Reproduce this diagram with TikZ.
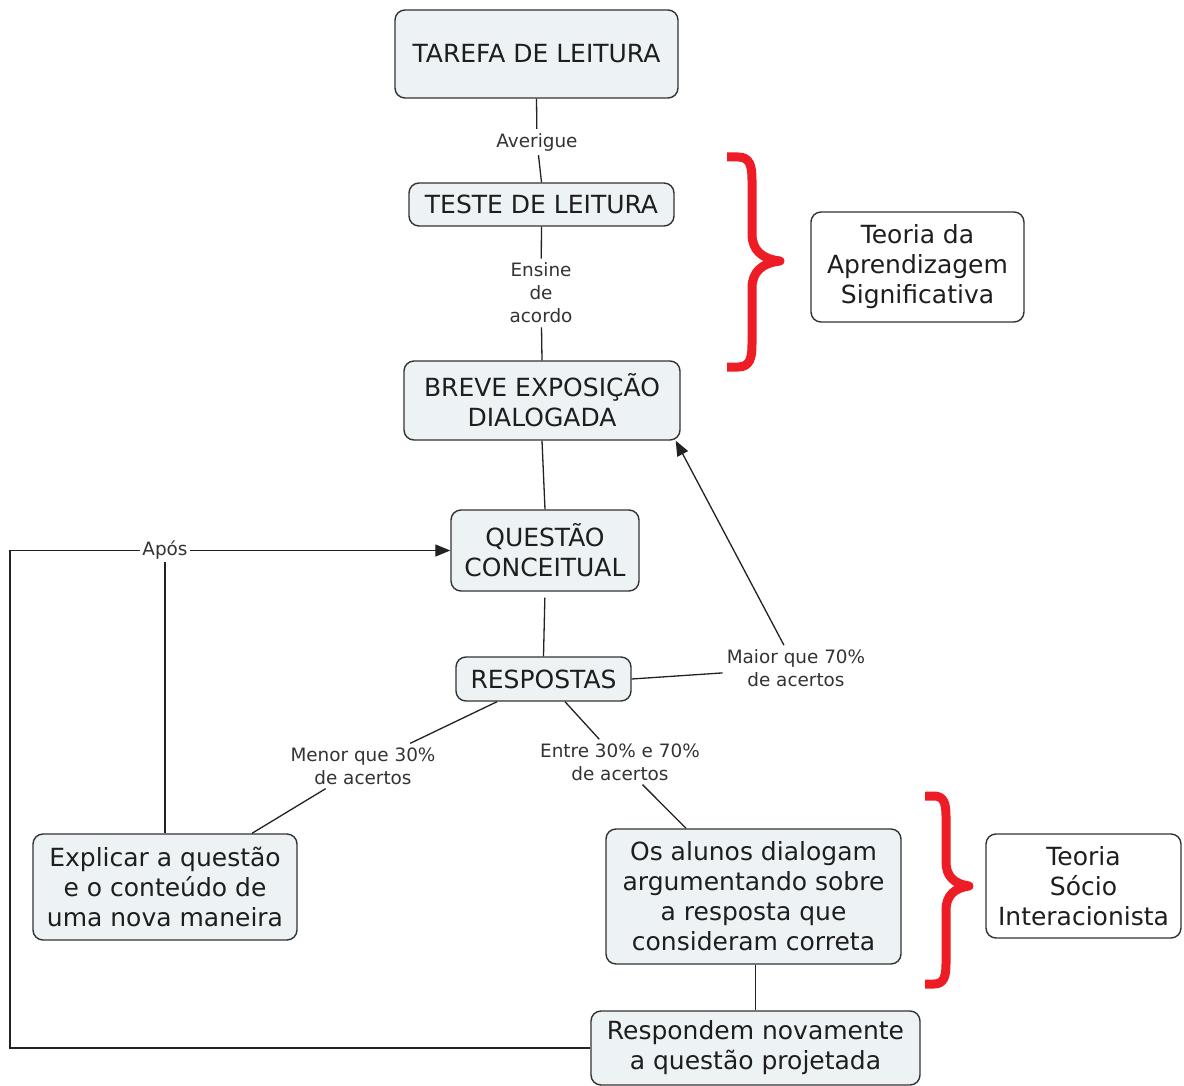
\documentclass[tikz,border=0pt]{standalone}
\usepackage{fontspec}
\setmainfont{DejaVu Sans}
\usetikzlibrary{arrows.meta,calc}
\definecolor{boxfill}{HTML}{EDF3F5}
\definecolor{boxdraw}{HTML}{333333}
\definecolor{linecol}{HTML}{222222}
\definecolor{bracered}{HTML}{EE1C24}
\definecolor{txt}{HTML}{1E1E1E}
\definecolor{labtxt}{HTML}{333333}
\begin{document}
\begin{tikzpicture}[x=1pt,y=-1pt,
 concept/.style={draw=boxdraw, line width=1.4pt, rounded corners=10pt, fill=boxfill, align=center, inner sep=0pt, text=txt, font=\fontsize{25}{30}\selectfont},
 theory/.style={concept, fill=white},
 linkl/.style={align=center, inner sep=4pt, text=labtxt, font=\fontsize{18.4}{23}\selectfont},
 conn/.style={draw=linecol, line width=1.3pt},
 arrowconn/.style={conn, -{Triangle[length=15pt,width=12pt]}},
 bracestyle/.style={draw=bracered, line width=9pt, line join=round},
]
\useasboundingbox (0,0) rectangle (1184,1086);
\fill[white] (0,0) rectangle (1184,1086);

% concepts
\node[concept, minimum width=283pt, minimum height=88pt] (tarefa) at (536.5,54) {TAREFA DE LEITURA};
\node[concept, minimum width=265pt, minimum height=43pt] (teste) at (541.5,204.5) {TESTE DE LEITURA};
\node[concept, minimum width=276pt, minimum height=79pt] (breve) at (542,400.5) {BREVE EXPOSIÇÃO\\DIALOGADA};
\node[concept, minimum width=188pt, minimum height=81pt] (quest) at (545,550.5) {QUESTÃO\\CONCEITUAL};
\node[concept, minimum width=175pt, minimum height=44pt] (resp) at (543.5,679) {RESPOSTAS};
\node[concept, minimum width=264pt, minimum height=106pt] (expl) at (165,887) {Explicar a questão\\e o conteúdo de\\uma nova maneira};
\node[concept, minimum width=295pt, minimum height=135pt] (alunos) at (753.5,896.5) {Os alunos dialogam\\argumentando sobre\\a resposta que\\consideram correta};
\node[concept, minimum width=329pt, minimum height=74pt] (resp2) at (755.5,1048) {Respondem novamente\\a questão projetada};
\node[theory, minimum width=213pt, minimum height=110pt] (teo1) at (917.5,267) {Teoria da\\Aprendizagem\\Significativa};
\node[theory, minimum width=195pt, minimum height=104pt] (teo2) at (1083.5,886) {Teoria\\Sócio\\Interacionista};

% linking phrases
\node[linkl] (avg) at (537,142) {Averigue};
\node[linkl] (ens) at (541,293) {Ensine\\de\\acordo};
\node[linkl] (maior) at (796,668) {Maior que 70\%\\de acertos};
\node[linkl] (menor) at (363,766) {Menor que 30\%\\de acertos};
\node[linkl] (entre) at (620,762) {Entre 30\% e 70\%\\de acertos};
\node[linkl, inner sep=2pt] (apos) at (165,550.5) {Após};

% connectors
\draw[conn] (tarefa.south) -- (avg) -- (teste.north);
\draw[conn] (teste.south) -- (ens) -- (breve.north);
\draw[conn] (breve.south) -- (quest.north);
\draw[conn, shorten <=6pt] (quest.south) -- (resp.north);
\draw[conn] (resp.east) -- (maior);
\draw[arrowconn] (maior) -- ([xshift=-5pt]breve.south east);
\draw[conn] ([xshift=-46.5pt]resp.south) -- (menor) -- ([xshift=87pt]expl.north);
\draw[conn] ([xshift=21.5pt]resp.south) -- (entre) -- ([xshift=-67.5pt]alunos.north);
\draw[conn] ([xshift=2pt]alunos.south) -- (resp2.north);
\coordinate (c1) at (10,1048);
\coordinate (c2) at (10,550.5);
\draw[conn] (resp2.west) -- (c1) -- (c2) -- (apos);
\draw[conn] (expl.north) -- (apos);
\draw[arrowconn] (apos) -- (quest.west);

% braces
\draw[bracestyle] (727,157) -- (738,157) .. controls (750,157) and (752,166) .. (752,180) -- (752,234) .. controls (752,250) and (762,259) .. (780,261) .. controls (762,263) and (752,272) .. (752,288) -- (752,344) .. controls (752,358) and (750,367) .. (738,367) -- (727,367);
\draw[bracestyle] (925,796) -- (934,796) .. controls (944,796) and (946,804) .. (946,816) -- (946,862) .. controls (946,876) and (954,884) .. (969,886) .. controls (954,888) and (946,896) .. (946,910) -- (946,964) .. controls (946,976) and (944,984) .. (934,984) -- (925,984);
\end{tikzpicture}
\end{document}
